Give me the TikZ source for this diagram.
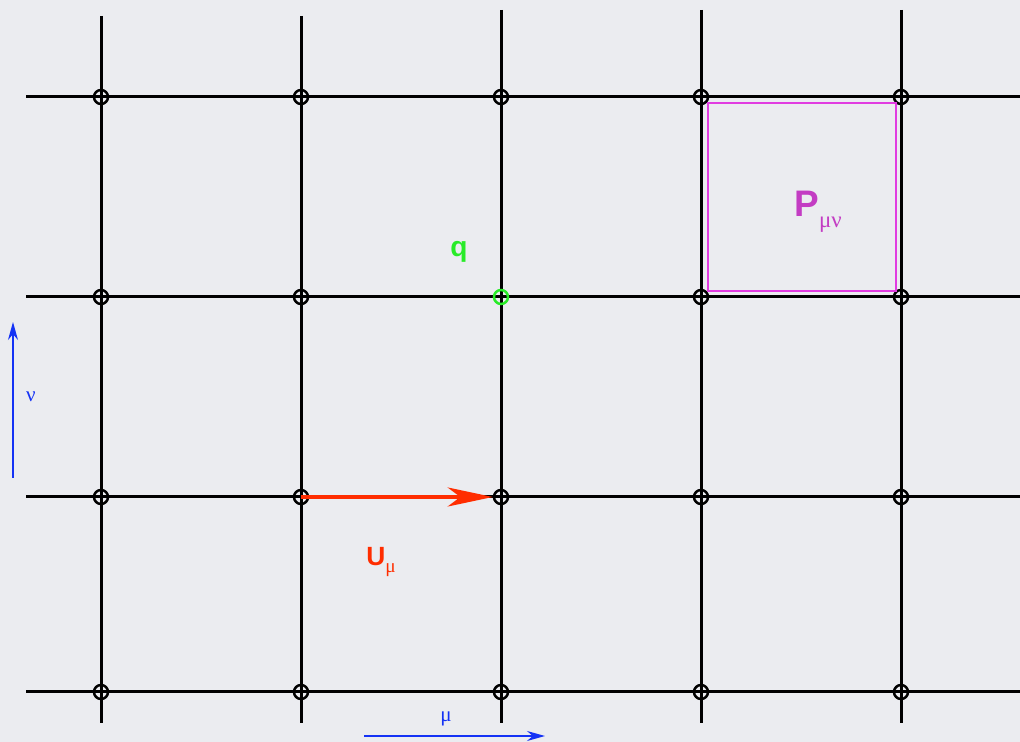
\documentclass[tikz,border=0pt]{standalone}
\usepackage{fontspec}
\setmainfont{Liberation Sans}
\newfontfamily\grkfont{Liberation Serif}
\usetikzlibrary{arrows.meta}

\definecolor{bgcol}{RGB}{235,236,240}
\definecolor{linkred}{RGB}{255,45,0}
\definecolor{plaqcol}{RGB}{225,60,225}
\definecolor{plaqtext}{RGB}{195,60,195}
\definecolor{quarkgreen}{RGB}{40,235,40}
\definecolor{axisblue}{RGB}{20,50,245}

% lowered greek index
\newcommand{\lowidx}[2]{\raisebox{-0.55ex}{\fontsize{#1}{#1}\selectfont\mdseries\grkfont #2}}

\begin{document}
\begin{tikzpicture}[x=0.2mm, y=-0.2mm,
    site/.style={circle, draw, line width=0.5mm, minimum size=2.8mm, inner sep=0pt},
    grid/.style={line width=0.6mm, black},
    link/.style={-{Stealth[length=9mm, width=3.8mm, inset=2.5mm]}, line width=0.7mm, linkred},
    axis/.style={-{Stealth[length=3.6mm, width=2mm]}, line width=0.3mm, axisblue},
    label/.style={font=\bfseries\fontsize{15pt}{15pt}\selectfont, inner sep=0pt},
]

\fill[bgcol] (0,0) rectangle (1020,742);
\useasboundingbox (0,0) rectangle (1020,742);

% lattice lines
\draw[grid] (101,16) -- (101,723);
\draw[grid] (301,16) -- (301,723);
\draw[grid] (501,10) -- (501,723);
\draw[grid] (701,10) -- (701,723);
\draw[grid] (901,10) -- (901,723);
\draw[grid] (26,97) -- (1020,97);
\draw[grid] (26,297) -- (1020,297);
\draw[grid] (26,497) -- (1020,497);
\draw[grid] (26,692) -- (1020,692);

% lattice sites
\node[site] (s11) at (101,97) {};
\node[site] (s21) at (301,97) {};
\node[site] (s31) at (501,97) {};
\node[site] (s41) at (701,97) {};
\node[site] (s51) at (901,97) {};
\node[site] (s12) at (101,297) {};
\node[site] (s22) at (301,297) {};
\node[site, draw=quarkgreen] (s32) at (501,297) {};
\node[site] (s42) at (701,297) {};
\node[site] (s52) at (901,297) {};
\node[site] (s13) at (101,497) {};
\node[site] (s23) at (301,497) {};
\node[site] (s33) at (501,497) {};
\node[site] (s43) at (701,497) {};
\node[site] (s53) at (901,497) {};
\node[site] (s14) at (101,692) {};
\node[site] (s24) at (301,692) {};
\node[site] (s34) at (501,692) {};
\node[site] (s44) at (701,692) {};
\node[site] (s54) at (901,692) {};

% plaquette
\draw[plaqcol, line width=0.55mm] (708,103) rectangle (896,291);
\node[label, plaqtext, font=\bfseries\fontsize{21pt}{21pt}\selectfont] (plaq) at (818,212) {P\lowidx{13pt}{μν}};

% link
\draw[link] (s23.center) -- (s33);
\node[label, linkred] (ulab) at (381,562) {U\lowidx{11pt}{μ}};

% quark
\node[label, quarkgreen, font=\bfseries\fontsize{16pt}{16pt}\selectfont] (qlab) at (459,252) {q};

% directions
\coordinate (nustart) at (13,478);
\coordinate (nuend) at (13,322);
\draw[axis] (nustart) -- (nuend);
\node[axisblue, font=\fontsize{12pt}{12pt}\selectfont\grkfont] (nulab) at (31,397) {ν};
\coordinate (mustart) at (364,736);
\coordinate (muend) at (545,736);
\draw[axis] (mustart) -- (muend);
\node[axisblue, font=\fontsize{12pt}{12pt}\selectfont\grkfont] (mulab) at (446,719) {μ};

\end{tikzpicture}
\end{document}
